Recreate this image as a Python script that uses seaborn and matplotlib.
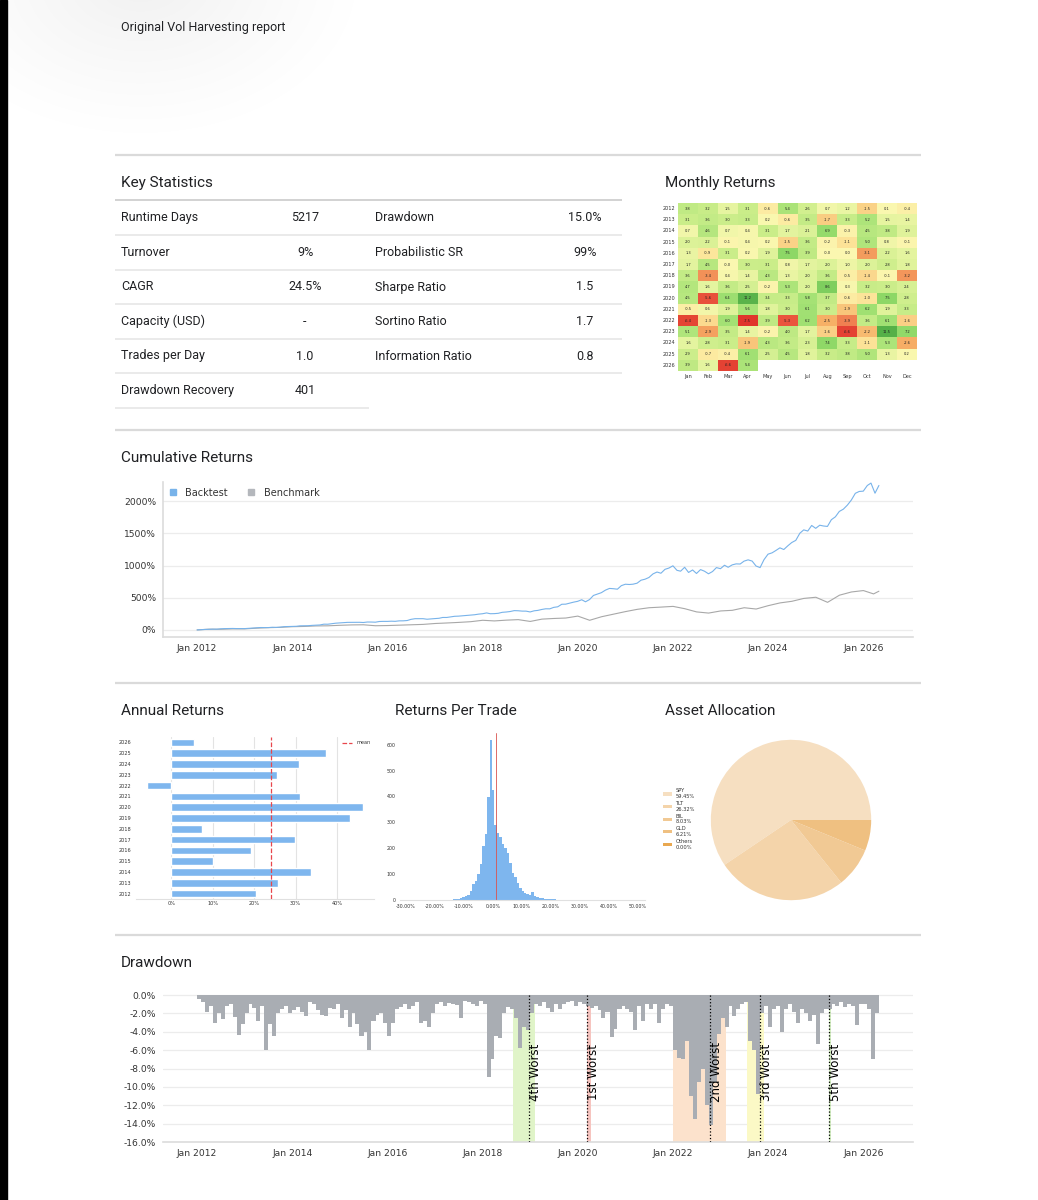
import numpy as np
import pandas as pd
import matplotlib
matplotlib.use("Agg")
from matplotlib import pyplot as plt
import matplotlib.dates as mdates
import matplotlib.colors as mcolors
from matplotlib.lines import Line2D
from matplotlib.patches import Rectangle
from matplotlib.ticker import FuncFormatter, MultipleLocator
import seaborn as sns

sns.set_style("white")
plt.rcParams["font.family"] = ["DejaVu Sans"]
UI_FONT = ["Roboto", "DejaVu Sans"]

W, H = 1038, 1200
TXT = "#202124"
TICK = "#333333"
BLUE = "#7eb6ee"
GRAY = "#a9adb3"

# ---------------- data ----------------
stats_left_labels = ["Runtime Days", "Turnover", "CAGR", "Capacity (USD)", "Trades per Day", "Drawdown Recovery"]
stats_left_values = ["5217", "9%", "24.5%", "-", "1.0", "401"]
stats_right_labels = ["Drawdown", "Probabilistic SR", "Sharpe Ratio", "Sortino Ratio", "Information Ratio"]
stats_right_values = ["15.0%", "99%", "1.5", "1.7", "0.8"]

months = ["Jan", "Feb", "Mar", "Apr", "May", "Jun", "Jul", "Aug", "Sep", "Oct", "Nov", "Dec"]
years = list(range(2012, 2027))
nan = np.nan
monthly = [
    [3.8, 3.2, 1.5, 3.1, -0.6, 5.4, 2.6, 0.7, 1.2, -1.5, 0.1, -0.4],
    [3.1, 3.6, 3.0, 3.3, 0.2, -0.6, 3.5, -1.7, 3.3, 5.2, 1.5, 1.4],
    [0.7, 4.6, 0.7, 0.4, 3.1, 1.7, 2.1, 6.9, -0.3, 4.5, 3.8, 1.9],
    [2.0, 2.2, -0.1, 0.4, 0.2, -1.5, 3.6, -0.2, -1.1, 5.0, 0.8, -0.1],
    [1.3, -0.9, 3.1, 0.2, 1.9, 7.5, 3.9, -0.0, 0.0, -3.1, 2.2, 1.6],
    [1.7, 4.5, -0.0, 3.0, 3.1, 0.8, 1.7, 2.0, 1.0, 2.0, 2.8, 1.8],
    [3.6, -3.4, 0.4, 1.4, 4.3, 1.3, 2.0, 3.6, -0.5, -1.4, -0.1, -3.2],
    [4.7, 1.6, 3.6, 2.5, -0.2, 5.3, 2.0, 8.6, 0.3, 3.2, 3.0, 2.4],
    [4.5, -5.6, 6.4, 11.2, 3.4, 3.3, 5.8, 3.7, -0.6, -1.0, 7.5, 2.8],
    [-0.5, 0.6, 1.9, 5.6, 1.8, 3.0, 6.1, 3.0, -1.9, 6.2, 1.9, 3.3],
    [-6.4, -1.3, 6.0, -7.5, 3.9, -5.3, 6.2, -2.5, -3.9, 3.6, 6.1, -1.6],
    [5.1, -2.9, 3.5, 1.4, -0.2, 4.0, 1.7, -1.6, -6.6, -2.2, 11.5, 7.2],
    [1.6, 2.8, 3.1, -1.9, 4.3, 3.6, 2.3, 7.4, 3.3, -1.1, 5.3, -2.6],
    [2.9, -0.7, -0.4, 6.1, 2.5, 4.5, 1.8, 3.2, 3.8, 5.0, 1.3, 0.2],
    [3.9, 1.6, -6.6, 5.4, nan, nan, nan, nan, nan, nan, nan, nan],
]

annual_returns = [20.4, 25.7, 33.8, 10.1, 19.3, 29.9, 7.4, 43.0, 46.3, 31.1, -5.9, 25.4, 30.7, 37.3, 5.5]

# benchmark cumulative return (%), quarterly from Jan 2012, then two last points
bench_quarterly = [0, 12, 10, 16, 16, 27, 35, 40, 50, 54, 62, 64, 72, 78, 80, 65,
                   68, 74, 80, 86, 100, 108, 117, 128, 150, 140, 152, 160, 132, 168, 178, 185,
                   215, 150, 205, 245, 285, 320, 345, 355, 366, 330, 280, 262, 295, 305, 345, 325,
                   377, 420, 445, 490, 508, 429, 540, 590, 612]
bench_tail_dates = ["2026-03-20", "2026-04-30"]
bench_tail_vals = [560, 602]

# monthly drawdown troughs (%), Jan 2012 .. Apr 2026
drawdown = [
    -0.4, -0.8, -1.8, -1.2, -3.0, -2.0, -2.6, -1.2, -1.0, -2.4, -4.4, -3.2,
    -2.0, -1.0, -1.4, -2.8, -1.2, -6.0, -3.2, -4.5, -2.0, -1.5, -1.2, -2.0,
    -1.6, -1.3, -1.8, -2.3, -0.8, -1.0, -1.6, -2.2, -2.3, -1.4, -1.5, -1.0,
    -2.5, -1.6, -3.5, -2.0, -3.2, -4.5, -4.0, -6.0, -2.8, -2.2, -2.0, -3.0,
    -4.5, -3.0, -1.5, -1.3, -1.0, -1.5, -1.2, -0.8, -3.0, -2.8, -3.5, -2.0,
    -1.0, -0.8, -1.2, -0.9, -1.0, -1.1, -2.5, -0.6, -0.8, -1.0, -1.2, -0.7,
    -1.0, -8.9, -7.0, -4.5, -4.7, -2.0, -1.3, -1.5, -2.5, -5.8, -3.5, -3.8,
    -2.0, -1.0, -1.2, -0.8, -1.4, -1.8, -1.0, -1.5, -1.0, -0.8, -0.6, -1.2,
    -0.8, -1.0, -1.2, -1.4, -1.2, -1.6, -2.5, -1.8, -4.6, -3.7, -1.5, -1.2,
    -1.5, -1.8, -3.8, -1.2, -2.8, -1.0, -1.5, -1.0, -3.0, -1.5, -1.0, -1.2,
    -6.0, -6.8, -7.0, -5.0, -11.0, -13.5, -9.5, -8.0, -12.0, -14.2, -9.5, -4.2,
    -2.5, -3.5, -1.2, -2.3, -1.5, -1.0, -0.8, -5.0, -6.0, -10.8, -2.0, -1.2,
    -3.5, -1.5, -1.2, -4.0, -1.5, -1.0, -1.8, -3.0, -1.5, -2.0, -2.8, -2.2,
    -5.3, -2.0, -1.5, -1.5, -1.0, -1.2, -0.8, -1.3, -1.0, -1.2, -3.3, -1.0,
    -1.0, -1.5, -7.0, -2.0,
]

worst_labels = ["1st Worst", "2nd Worst", "3rd Worst", "4th Worst", "5th Worst"]
worst_start = ["2020-03-13", "2022-01-01", "2023-07-19", "2018-08-24", "2025-04-15"]
worst_mark = ["2020-03-13", "2022-10-12", "2023-10-30", "2018-12-24", "2025-04-15"]
worst_end = ["2020-04-10", "2023-02-12", "2023-12-01", "2019-02-06", "2025-05-01"]
worst_colors = ["#f6c4bf", "#fce2cc", "#fbf9c6", "#e0f4c8", "#d5efc3"]

# returns per trade histogram (bin counts, %)
trade_bin_start = -14.3
trade_bin_width = 0.85
trade_counts = [1, 2, 3, 5, 9, 11, 15, 20, 34, 62, 72, 100, 140, 210, 254, 398, 617, 424, 289,
                257, 244, 218, 199, 180, 141, 103, 90, 64, 45, 34, 28, 24, 19, 32, 17, 10, 7, 6,
                4, 4, 3, 2, 2, 1, 1, 1]

alloc_names = ["SPY", "TLT", "BIL", "GLD", "Others"]
alloc_pct = [59.45, 26.32, 8.03, 6.21, 0.00]
alloc_colors = ["#f6dfc1", "#f4d4aa", "#f1c994", "#efc081", "#e9a850"]


def rect(l, t, r, b):
    return [l / W, 1 - b / H, (r - l) / W, (b - t) / H]


def pct_fmt(dec):
    def f(v, pos):
        if abs(v) < 1e-9:
            v = 0.0
        return f"{v:.{dec}f}%"
    return FuncFormatter(f)


fig = plt.figure(figsize=(W / 100, H / 100), dpi=100)
fig.patch.set_facecolor("white")

# ---------------- page background ----------------
bg = fig.add_axes([0, 0, 1, 1], zorder=-10)
yy, xx = np.mgrid[0:240, 0:440]
d = np.sqrt(((xx - 140) / 240.0) ** 2 + ((yy + 20) / 170.0) ** 2)
shade = np.zeros((240, 440, 4))
shade[..., 3] = np.clip(1 - d, 0, 1) ** 1.2 * 0.06
bg.imshow(shade, extent=(0, 440, 240, 0), aspect="auto", interpolation="bilinear")
bg.add_patch(Rectangle((0, 0), 7, H, color="black"))
bg.set_xlim(0, W)
bg.set_ylim(H, 0)
bg.axis("off")

bg.text(121, 27, "Original Vol Harvesting report", fontsize=9, family=UI_FONT, color=TXT, va="center")

for y in [155, 430, 683, 935]:
    bg.plot([115, 921], [y, y], color="#dadada", lw=1.6, solid_capstyle="butt")

titles = [(121, 183, "Key Statistics"), (665, 183, "Monthly Returns"), (121, 458, "Cumulative Returns"),
          (121, 711, "Annual Returns"), (395, 711, "Returns Per Trade"), (665, 711, "Asset Allocation"),
          (121, 963, "Drawdown")]
for x, y, t in titles:
    bg.text(x, y, t, fontsize=11, family=UI_FONT, color=TXT, va="center")

# key statistics table
row_y = [200, 235, 270, 304, 339, 373, 408]
bg.plot([115, 622], [row_y[0], row_y[0]], color="#d2d2d2", lw=1.4, solid_capstyle="butt")
for y in row_y[1:-1]:
    bg.plot([115, 622], [y, y], color="#e4e4e4", lw=1.1, solid_capstyle="butt")
bg.plot([115, 369], [row_y[-1], row_y[-1]], color="#e4e4e4", lw=1.1, solid_capstyle="butt")
for i, (lab, val) in enumerate(zip(stats_left_labels, stats_left_values)):
    yc = (row_y[i] + row_y[i + 1]) / 2
    bg.text(121, yc, lab, fontsize=9, family=UI_FONT, color=TXT, va="center")
    bg.text(305, yc, val, fontsize=9, family=UI_FONT, color=TXT, va="center", ha="center")
for i, (lab, val) in enumerate(zip(stats_right_labels, stats_right_values)):
    yc = (row_y[i] + row_y[i + 1]) / 2
    bg.text(375, yc, lab, fontsize=9, family=UI_FONT, color=TXT, va="center")
    bg.text(585, yc, val, fontsize=9, family=UI_FONT, color=TXT, va="center", ha="center")

# ---------------- monthly returns heatmap ----------------
ax_hm = fig.add_axes(rect(678, 203, 917, 371))
df_m = pd.DataFrame(monthly, index=years, columns=months)
cmap = mcolors.LinearSegmentedColormap.from_list(
    "ryg", [(0.0, "#e0352c"), (0.13, "#eb5a40"), (0.263, "#f6b066"), (0.342, "#fce59a"),
            (0.395, "#fbf7b0"), (0.474, "#e6f4a0"), (0.553, "#cbed8a"), (0.71, "#a3e174"),
            (0.816, "#86d462"), (1.0, "#55b048")])
sns.heatmap(df_m, ax=ax_hm, cmap=cmap, vmin=-7.5, vmax=11.5, annot=True, fmt=".1f",
            annot_kws={"fontsize": 2.6, "color": "#222222"}, cbar=False,
            xticklabels=True, yticklabels=True)
ax_hm.tick_params(length=0, labelsize=3.6, pad=2, colors=TICK)
ax_hm.set_yticklabels(ax_hm.get_yticklabels(), rotation=0)
ax_hm.set_xticklabels(ax_hm.get_xticklabels(), rotation=0)
ax_hm.set_xlabel("")
ax_hm.set_ylabel("")

# ---------------- cumulative returns ----------------
flat = [v for row in monthly for v in row if not np.isnan(v)]
cum_vals = np.concatenate([[0.0], (np.cumprod(1 + np.array(flat) / 100) - 1) * 100])
cum_dates = pd.DatetimeIndex([pd.Timestamp("2012-01-01")]).append(
    pd.date_range("2012-01-31", periods=len(flat), freq="ME"))
bench_dates = pd.date_range("2012-01-01", periods=len(bench_quarterly), freq="QS").append(
    pd.DatetimeIndex(bench_tail_dates))
bench_vals = bench_quarterly + bench_tail_vals

ax_cr = fig.add_axes(rect(163, 482, 913, 637))
sns.lineplot(x=bench_dates, y=bench_vals, color="#a8a8a8", lw=0.8, ax=ax_cr)
sns.lineplot(x=cum_dates, y=cum_vals, color="#78b3ea", lw=0.8, ax=ax_cr)
ax_cr.set_ylim(-110, 2300)
ax_cr.yaxis.set_major_locator(MultipleLocator(500))
ax_cr.yaxis.set_major_formatter(pct_fmt(0))
ax_cr.yaxis.grid(True, color="#ececec", lw=0.9)
ax_cr.set_axisbelow(True)
for s in ["top", "right"]:
    ax_cr.spines[s].set_visible(False)
for s in ["left", "bottom"]:
    ax_cr.spines[s].set_color("#dcdcdc")
    ax_cr.spines[s].set_linewidth(1.2)
leg = ax_cr.legend(handles=[Line2D([], [], marker="s", ls="", color="#78b3ea", markersize=4.3),
                            Line2D([], [], marker="s", ls="", color="#b4b7bc", markersize=4.3)],
                   labels=["Backtest", "Benchmark"], ncol=2, frameon=False, fontsize=7,
                   loc="upper left", bbox_to_anchor=(0.0, 1.0), handlelength=0.8,
                   handletextpad=0.9, columnspacing=2.0, borderaxespad=0.2)
for t in leg.get_texts():
    t.set_color(TICK)

date_xlim = ax_cr.get_xlim()

# ---------------- drawdown ----------------
dd_dates = pd.date_range("2012-01-01", periods=len(drawdown), freq="MS") + pd.Timedelta(days=15)
ax_dd = fig.add_axes(rect(163, 990, 913, 1142))
ax_dd.bar(dd_dates, drawdown, width=31, color=GRAY, lw=0, zorder=3)
for lab, s, m, e, c in zip(worst_labels, worst_start, worst_mark, worst_end, worst_colors):
    ax_dd.fill_betweenx([-16, 0], pd.Timestamp(s), pd.Timestamp(e), color=c, lw=0, zorder=1)
    ax_dd.plot([pd.Timestamp(m)] * 2, [-16, 0], color="black", ls=":", lw=0.9, zorder=4)
    ax_dd.text(pd.Timestamp(m), -8.4, lab, rotation=90, ha="left", va="center", fontsize=8.5,
               color="black", zorder=5)
ax_dd.set_ylim(-16, 0.55)
ax_dd.yaxis.set_major_locator(MultipleLocator(2))
ax_dd.yaxis.set_major_formatter(pct_fmt(1))
ax_dd.yaxis.grid(True, color="#ececec", lw=0.9, zorder=0)
ax_dd.set_axisbelow(True)
for s in ["top", "right", "left"]:
    ax_dd.spines[s].set_visible(False)
ax_dd.spines["bottom"].set_color("#dcdcdc")
ax_dd.spines["bottom"].set_linewidth(1.2)

for ax in [ax_cr, ax_dd]:
    ax.set_xlim(date_xlim)
    ax.xaxis.set_major_locator(mdates.YearLocator(2))
    ax.xaxis.set_major_formatter(mdates.DateFormatter("%b %Y"))
    ax.tick_params(axis="both", labelsize=6.6, colors=TICK, length=3, width=0.7, pad=2)
    ax.tick_params(axis="both", color="#777777")
    ax.set_xlabel("")
    ax.set_ylabel("")

# ---------------- annual returns ----------------
ax_ar = fig.add_axes(rect(136, 737, 374, 899))
yr_lab = [str(y) for y in years]
sns.barplot(x=annual_returns, y=yr_lab, order=yr_lab[::-1], orient="h", color=BLUE,
            saturation=1, width=0.72, ax=ax_ar)
mean_ret = float(np.mean(annual_returns))
ax_ar.axvline(mean_ret, color="#e8474c", ls="--", lw=0.9, label="mean", zorder=5)
ax_ar.xaxis.set_major_locator(MultipleLocator(10))
ax_ar.xaxis.set_major_formatter(pct_fmt(0))
ax_ar.xaxis.grid(True, color="#e3e3e3", lw=0.8)
ax_ar.set_axisbelow(True)
ax_ar.tick_params(axis="both", labelsize=3.6, colors=TICK, pad=1.5)
ax_ar.tick_params(axis="y", length=2, width=0.5, color="#666666")
ax_ar.tick_params(axis="x", length=0)
for s in ["top", "right", "left"]:
    ax_ar.spines[s].set_visible(False)
ax_ar.spines["bottom"].set_color("#e0e0e0")
ax_ar.set_xlabel("")
ax_ar.set_ylabel("")
leg = ax_ar.legend(loc="upper right", frameon=False, fontsize=3.6, handlelength=2.0, borderaxespad=0.3)
for t in leg.get_texts():
    t.set_color(TICK)

# ---------------- returns per trade ----------------
n_bins = len(trade_counts)
edges = trade_bin_start - trade_bin_width / 2 + trade_bin_width * np.arange(n_bins + 1)
centers = (edges[:-1] + edges[1:]) / 2
df_trades = pd.DataFrame({"ret": centers, "n": trade_counts})
ax_rt = fig.add_axes(rect(400, 733, 645, 900))
sns.histplot(data=df_trades, x="ret", weights="n", bins=list(edges), color=BLUE, alpha=1,
             linewidth=0, ax=ax_rt)
trade_mean = float(np.sum(centers * np.array(trade_counts)) / np.sum(trade_counts))
ax_rt.axvline(trade_mean, color="#d9534f", lw=0.6)
ax_rt.set_xlim(-32, 52.5)
ax_rt.set_ylim(0, 645)
ax_rt.set_xticks(range(-30, 51, 10))
ax_rt.xaxis.set_major_formatter(pct_fmt(2))
ax_rt.yaxis.set_major_locator(MultipleLocator(100))
ax_rt.tick_params(axis="both", labelsize=3.4, colors=TICK, length=1.5, width=0.5, pad=1.5)
ax_rt.tick_params(axis="both", color="#888888")
for s in ["top", "right", "left"]:
    ax_rt.spines[s].set_visible(False)
ax_rt.spines["bottom"].set_color("#e0e0e0")
ax_rt.set_xlabel("")
ax_rt.set_ylabel("")

# ---------------- asset allocation ----------------
ax_pie = fig.add_axes(rect(710, 739, 872, 901))
wedges, _ = ax_pie.pie(alloc_pct, colors=alloc_colors, startangle=0, counterclock=True,
                       wedgeprops=dict(linewidth=0))
ax_pie.set_xlim(-1.01, 1.01)
ax_pie.set_ylim(-1.01, 1.01)
ax_pie.set_aspect("equal")
leg = ax_pie.legend(wedges, [f"{n}\n{p:.2f}%" for n, p in zip(alloc_names, alloc_pct)],
                    loc="center left", bbox_to_anchor=(663 / W, 1 - 819 / H),
                    bbox_transform=fig.transFigure, frameon=False, fontsize=3.7,
                    handlelength=1.7, handleheight=0.6, handletextpad=0.7, labelspacing=0.35,
                    borderaxespad=0, borderpad=0)
for t in leg.get_texts():
    t.set_color(TICK)

fig.savefig("out.png", dpi=100, facecolor="white")
